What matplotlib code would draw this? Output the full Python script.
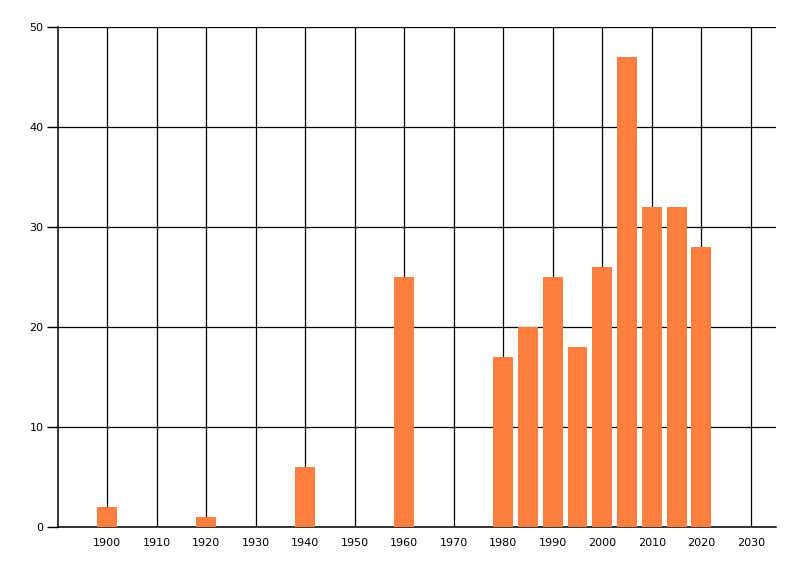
import matplotlib
matplotlib.use('Agg')
import matplotlib.pyplot as plt

years = [1900, 1920, 1940, 1960, 1980, 1985, 1990, 1995, 2000, 2005, 2010, 2015, 2020]
counts = [2, 1, 6, 25, 17, 20, 25, 18, 26, 47, 32, 32, 28]
x_ticks = list(range(1900, 2031, 10))
y_ticks = [0, 10, 20, 30, 40, 50]

fig = plt.figure(figsize=(8, 5.76), dpi=100)
ax = fig.add_axes([0.0719, 0.085, 0.8977, 0.868])

ax.bar(years, counts, width=4, color='#FF7F40', zorder=3)

ax.set_xlim(1890, 2035)
ax.set_ylim(0, 50)
ax.set_xticks(x_ticks)
ax.set_yticks(y_ticks)
ax.grid(True, color='black', linewidth=0.9, zorder=1)
ax.set_axisbelow(True)

for s in ['top', 'right']:
    ax.spines[s].set_visible(False)
ax.spines['left'].set_linewidth(1.1)
ax.spines['bottom'].set_linewidth(1.1)

ax.tick_params(axis='y', length=8, width=1, labelsize=8, pad=2)
ax.tick_params(axis='x', length=0, labelsize=8, pad=8)

plt.savefig('out.png', dpi=100)
plt.close()
